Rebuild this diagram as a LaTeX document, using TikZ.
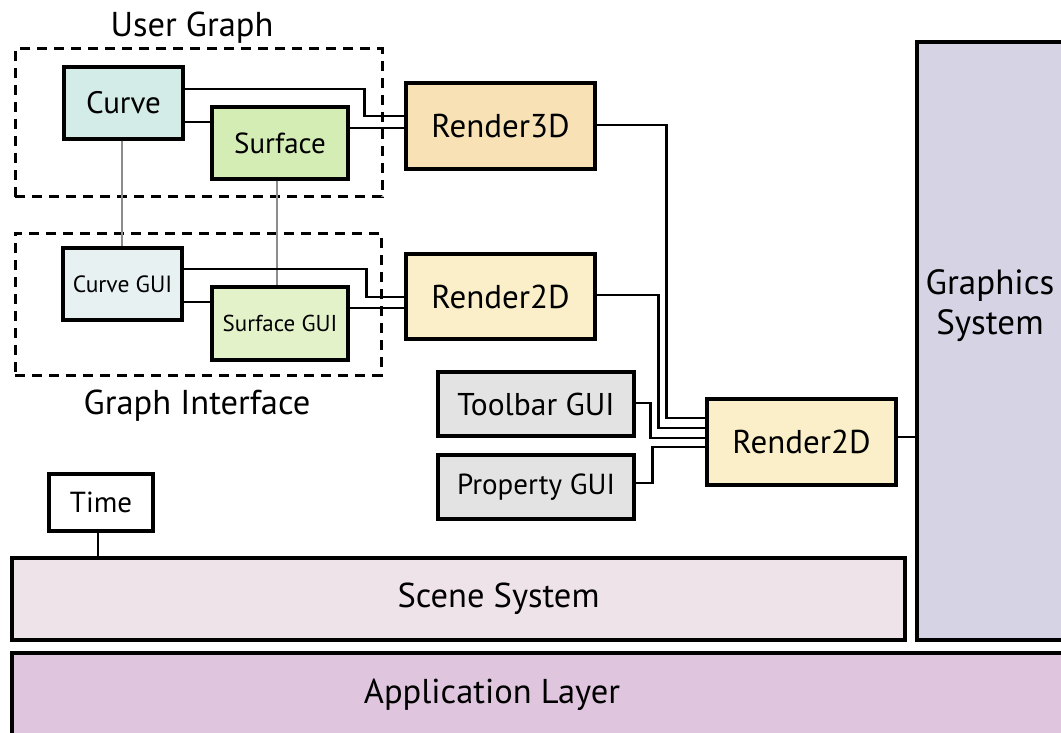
\documentclass[tikz,border=0pt]{standalone}
\usepackage{fontspec}
\setmainfont{PT Sans}
\usetikzlibrary{calc}

\definecolor{curvefill}{HTML}{D3ECE8}
\definecolor{surffill}{HTML}{D4EDB4}
\definecolor{curveguifill}{HTML}{E8F1F2}
\definecolor{surfguifill}{HTML}{E3F2C8}
\definecolor{rthreefill}{HTML}{F7E1B5}
\definecolor{rtwofill}{HTML}{FAEFC9}
\definecolor{guifill}{HTML}{E3E3E3}
\definecolor{scenefill}{HTML}{EFE3EA}
\definecolor{gfxfill}{HTML}{D5D3E4}
\definecolor{appfill}{HTML}{E0C5DE}
\definecolor{linkgray}{HTML}{8C8C8C}

\newcommand{\fsbig}{\fontsize{33}{40}\selectfont}
\newcommand{\fsgfx}{\fontsize{35}{40}\selectfont}
\newcommand{\fslabel}{\fontsize{34.5}{38}\selectfont}
\newcommand{\fsmid}{\fontsize{29}{34}\selectfont}
\newcommand{\fssmall}{\fontsize{23.5}{28}\selectfont}

\begin{document}
\begin{tikzpicture}[x=1pt,y=-1pt,
  box/.style={draw=black,line width=3.2pt,inner sep=0pt,align=center},
  groupbox/.style={draw=black,line width=3pt,dash pattern=on 10pt off 7pt,inner sep=0pt},
  wire/.style={draw=black,line width=2.8pt},
  softwire/.style={draw=linkgray,line width=2.6pt},
  caption/.style={inner sep=0pt,align=center}]

\useasboundingbox (0,0) rectangle (1061,733);
\clip (0,0) rectangle (1061,733);

% ---- grouping frames ----
\node[groupbox,minimum width=367pt,minimum height=148pt] (usergraph) at (198.5,123) {};
\node[groupbox,minimum width=366pt,minimum height=142pt] (graphif) at (198,304) {};
\node[caption,font=\fslabel] (usergraphlabel) at (192,28) {User Graph};
\node[caption,font=\fslabel] (graphiflabel) at (197,406) {Graph Interface};

% ---- graph nodes ----
\node[box,fill=curvefill,minimum width=119pt,minimum height=72pt,font=\fontsize{31}{34}\selectfont] (curve) at (123.5,103) {Curve};
\node[box,fill=surffill,minimum width=136pt,minimum height=72pt,font=\fsmid] (surface) at (280,143) {Surface};
\node[box,fill=curveguifill,minimum width=119pt,minimum height=72pt,font=\fssmall] (curvegui) at (122.5,284) {Curve GUI};
\node[box,fill=surfguifill,minimum width=136pt,minimum height=73pt,font=\fontsize{23}{28}\selectfont] (surfgui) at (280,323.5) {Surface GUI};

% ---- renderers ----
\node[box,fill=rthreefill,minimum width=189pt,minimum height=86pt,font=\fsbig] (rthree) at (500.5,126) {Render3D};
\node[box,fill=rtwofill,minimum width=189pt,minimum height=85pt,font=\fsbig] (rtwoa) at (500.5,296.5) {Render2D};
\node[box,fill=rtwofill,minimum width=189pt,minimum height=86pt,font=\fsbig] (rtwob) at (801.5,442) {Render2D};

% ---- GUI panels ----
\node[box,fill=guifill,minimum width=196pt,minimum height=64pt,font=\fontsize{31.5}{34}\selectfont] (toolbar) at (536,404) {Toolbar GUI};
\node[box,fill=guifill,minimum width=196pt,minimum height=64pt,font=\fsmid] (property) at (536,487) {Property GUI};

% ---- time and layers ----
\node[box,fill=white,minimum width=104pt,minimum height=57pt,font=\fsmid] (time) at (101,502.5) {Time};
\node[box,fill=scenefill,minimum width=893pt,minimum height=82pt] (scene) at (458.5,599) {};
\node[caption,font=\fontsize{34.5}{40}\selectfont] (scenelabel) at (498.5,599) {Scene System};
\node[box,fill=gfxfill,minimum width=163pt,minimum height=598pt] (graphics) at (998.5,341) {};
\node[caption,font=\fsgfx] (graphicslabel) at (990,306) {Graphics\\System};
\node[box,fill=appfill,minimum width=1068pt,minimum height=107pt] (app) at (546,706.5) {};
\node[caption,font=\fontsize{34.5}{40}\selectfont] (applabel) at (492,695) {Application Layer};

% ---- model/GUI links ----
\draw[softwire] ([xshift=-1.5pt]curve.south) -- ([xshift=-0.5pt]curvegui.north);
\draw[softwire] ([xshift=-3pt]surface.south) -- ([xshift=-3pt]surfgui.north);

% ---- links into Render3D ----
\draw[wire] ([yshift=14pt]curve.east) -| ([xshift=-40pt,yshift=10pt]rthree.west) -- ([yshift=10pt]rthree.west);
\coordinate (surfout) at ([yshift=15pt]surface.east);
\draw[wire] (surfout) -- (surfout -| rthree.west);
\coordinate (curvelow) at ([yshift=-19pt]curve.east);
\draw[wire] (curvelow) -- (curvelow -| surface.west);

% ---- links into the upper Render2D ----
\draw[wire] ([yshift=15pt]curvegui.east) -| ([xshift=-38pt,yshift=-0.5pt]rtwoa.west) -- ([yshift=-0.5pt]rtwoa.west);
\coordinate (surfguiout) at ([yshift=15.5pt]surfgui.east);
\draw[wire] (surfguiout) -- (surfguiout -| rtwoa.west);
\coordinate (curveguilow) at ([yshift=-18pt]curvegui.east);
\draw[wire] (curveguilow) -- (curveguilow -| surfgui.west);

% ---- links into the lower Render2D ----
\draw[wire] ([yshift=1pt]rthree.east) -| ([xshift=-39pt,yshift=24pt]rtwob.west) -- ([yshift=24pt]rtwob.west);
\draw[wire] ([yshift=1.5pt]rtwoa.east) -| ([xshift=-47pt,yshift=14pt]rtwob.west) -- ([yshift=14pt]rtwob.west);
\draw[wire] ([yshift=1pt]toolbar.east) -| ([xshift=-55pt,yshift=4pt]rtwob.west) -- ([yshift=4pt]rtwob.west);
\draw[wire] ([yshift=4pt]property.east) -| ([xshift=-53pt,yshift=-5pt]rtwob.west) -- ([yshift=-5pt]rtwob.west);

% ---- output and clock ----
\coordinate (rtwobout) at ([yshift=5pt]rtwob.east);
\draw[wire] (rtwobout) -- (rtwobout -| graphics.west);
\draw[wire] ([xshift=-3pt]time.south) -- ([xshift=-3pt]time.south |- scene.north);

\end{tikzpicture}
\end{document}
